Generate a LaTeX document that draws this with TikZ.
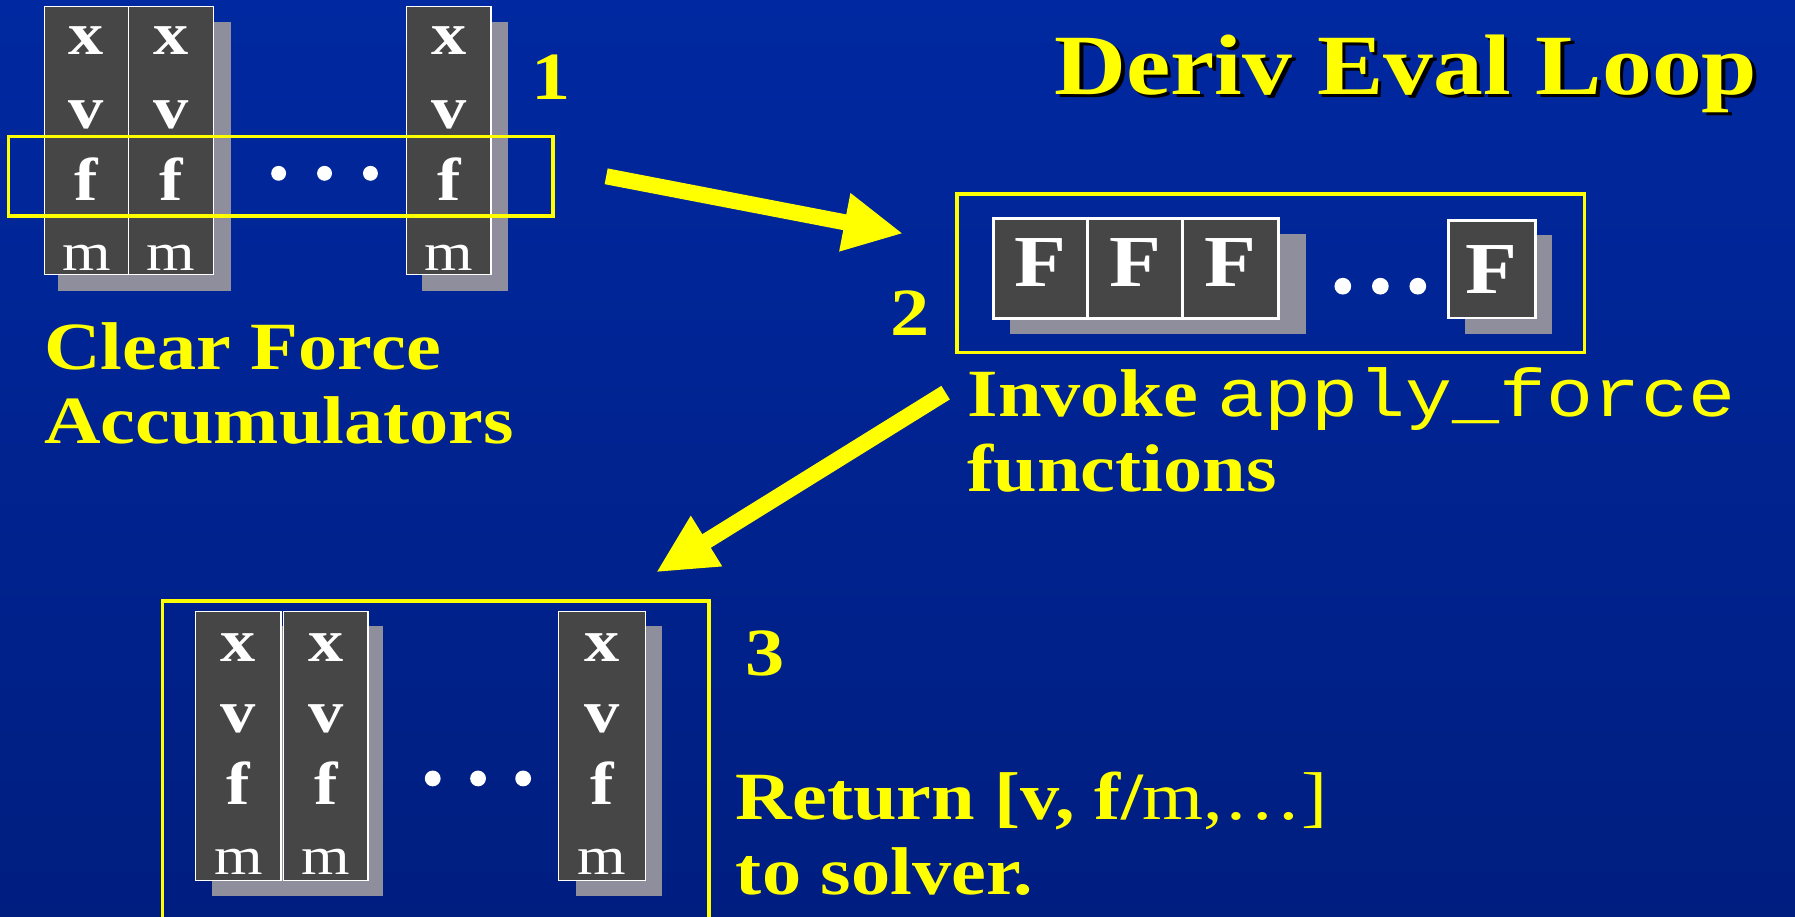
\documentclass[tikz,border=0pt]{standalone}
\usepackage{fontspec}
\setmainfont{Liberation Serif}[FakeStretch=1.16]
\setmonofont{Liberation Mono}[FakeStretch=1.16]
\usetikzlibrary{arrows.meta}
\definecolor{bgtop}{RGB}{0,40,160}
\definecolor{bgbot}{RGB}{0,30,128}
\definecolor{ylw}{RGB}{255,255,0}
\definecolor{cellgray}{RGB}{70,70,70}
\definecolor{shadowgray}{RGB}{142,142,156}
\begin{document}
\begin{tikzpicture}[x=1pt,y=-1pt,
  cell/.style={draw=white, line width=1pt, fill=cellgray},
  fcell/.style={draw=white, line width=2.5pt, fill=cellgray},
  shadowbox/.style={fill=shadowgray},
  hl/.style={draw=ylw, line width=3pt},
  lett/.style={text=white, font=\fontsize{53}{53}\selectfont\bfseries, anchor=base, inner sep=0pt},
  mlett/.style={text=white, font=\fontsize{47}{47}\selectfont, anchor=base, inner sep=0pt},
  flett/.style={text=white, font=\fontsize{64}{64}\selectfont\bfseries, anchor=base, inner sep=0pt},
  txt/.style={text=ylw, font=\fontsize{59}{59}\selectfont\bfseries, inner sep=0pt},
  titletxt/.style={font=\fontsize{75}{75}\selectfont\bfseries, inner sep=0pt, anchor=base west},
  dotw/.style={fill=white},
  bigarrow/.style={draw=ylw, line width=14pt, -{Triangle[length=52pt,width=48pt]}}
]
\useasboundingbox (0,0) rectangle (1568,801);
\shade[top color=bgtop, bottom color=bgbot] (0,0) rectangle (1568,801);

% ---------- Panel 1 ----------
\fill[shadowbox] (50.8,19) rectangle (202,254);
\fill[shadowbox] (368.4,19) rectangle (444,254);
\path[cell] (38.5,6) rectangle (112.5,239.5);
\path[cell] (112.5,6) rectangle (186.5,239.5);
\path[cell] (355.4,6) rectangle (428.9,239.5);
\foreach \cx/\nm in {75.5/a,149.5/b,392/c}{
  \node[lett] (p1x\nm) at (\cx,48) {x};
  \node[lett] (p1v\nm) at (\cx,112) {v};
  \node[lett] (p1f\nm) at (\cx,175) {f};
  \node[mlett] (p1m\nm) at (\cx,236) {m};
}
\foreach \dx in {243.4,283.5,323.6}{\fill[dotw] (\dx,151.4) circle (6.5pt);}
\path[hl] (7.4,119.4) rectangle (483,188.7);
\node[txt, anchor=base] (n1) at (481,87) {1};
\node[txt, anchor=base west] (cf1) at (38.4,323) {Clear Force};
\node[txt, anchor=base west] (cf2) at (38.4,387) {Accumulators};

% ---------- Title ----------
\node[titletxt, text=black] (titlesh) at (924,85.5) {Deriv Eval Loop};
\node[titletxt, text=ylw] (title) at (921,82.5) {Deriv Eval Loop};

% ---------- Panel 2 ----------
\path[hl] (836,169.5) rectangle (1384,308);
\fill[shadowbox] (882,204) rectangle (1141,292);
\fill[shadowbox] (1279.5,205) rectangle (1355.7,292);
\path[fcell] (868,191) rectangle (950,278);
\path[fcell] (950,191) rectangle (1033,278);
\path[fcell] (1033,191) rectangle (1117,278);
\path[fcell] (1265.4,192.8) rectangle (1341,277.8);
\node[flett] (F1) at (909,250.4) {F};
\node[flett] (F2) at (991.5,250.4) {F};
\node[flett] (F3) at (1075,250.4) {F};
\node[flett] (F4) at (1303.2,256) {F};
\foreach \dx in {1173,1205.8,1238.5}{\fill[dotw] (\dx,250) circle (7.3pt);}
\node[txt, anchor=base] (n2) at (795,293) {2};
\node[txt, anchor=base west] (inv) at (845,364) {Invoke {\ttfamily\mdseries apply\_force}};
\node[txt, anchor=base west] (fun) at (845,429.5) {functions};

% ---------- Panel 3 ----------
\path[hl] (142,525) rectangle (619.5,815);
\fill[shadowbox] (185,547) rectangle (334.6,782.7);
\fill[shadowbox] (503,547) rectangle (578,782.7);
\path[cell] (171,534) rectangle (245.5,769.5);
\path[cell] (248,534) rectangle (321.5,769.5);
\path[cell] (488,534) rectangle (563.5,769.5);
\foreach \cx/\nm in {208.2/a,284.8/b,525.7/c}{
  \node[lett] (p3x\nm) at (\cx,578) {x};
  \node[lett] (p3v\nm) at (\cx,640) {v};
  \node[lett] (p3f\nm) at (\cx,703) {f};
  \node[mlett] (p3m\nm) at (\cx,764) {m};
}
\foreach \dx in {378,417.6,457}{\fill[dotw] (\dx,680) circle (6.9pt);}
\node[txt, anchor=base] (n3) at (668,590) {3};
\node[txt, anchor=base west] (ret) at (642.7,716) {Return [v, f/{\mdseries m,\ldots]}};
\node[txt, anchor=base west] (sol) at (642.7,781) {to solver.};

% ---------- Arrows ----------
\coordinate (a1s) at (529.5,154);
\coordinate (a1e) at (789,204);
\coordinate (a2s) at (826,343);
\coordinate (a2e) at (573,500);
\draw[bigarrow] (a1s) -- (a1e);
\draw[bigarrow] (a2s) -- (a2e);
\end{tikzpicture}
\end{document}
